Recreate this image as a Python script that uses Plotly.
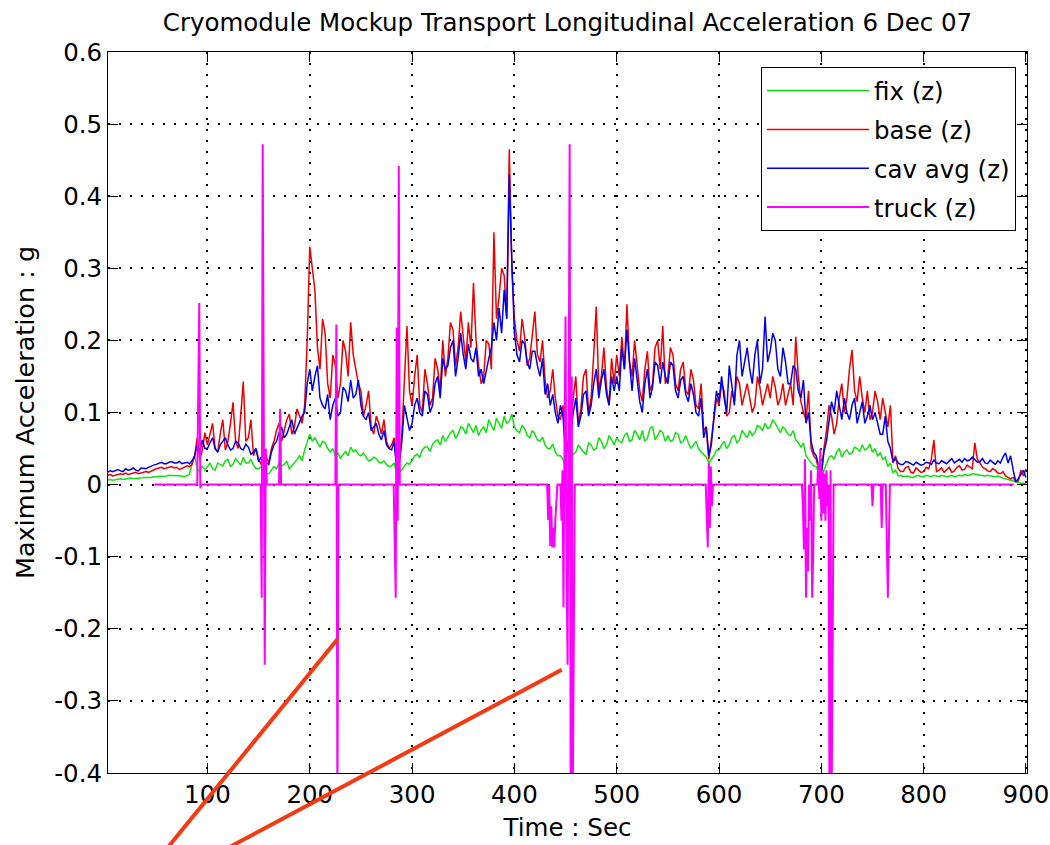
import plotly.graph_objects as go

# ---- data ----
# samples on the whole 5 s grid
time_even = list(range(0, 901, 5))
# samples half way between them (2.5 s, 7.5 s, ...)
time_mid = [2.5 + 5 * k for k in range(180)]

base_even = [
    0.012, 0.014, 0.013, 0.015, 0.016, 0.015, 0.017, 0.016, 0.018, 0.019,
    0.022, 0.024, 0.023, 0.025, 0.024, 0.022, 0.026, 0.028, 0.065, 0.048,
    0.055, 0.085, 0.045, 0.090, 0.060, 0.114, 0.050, 0.143, 0.065, 0.040,
    0.035, 0.045, 0.030, 0.060, 0.085, 0.075, 0.098, 0.080, 0.095, 0.110,
    0.330, 0.270, 0.160, 0.210, 0.120, 0.165, 0.140, 0.185, 0.225, 0.160,
    0.130, 0.110, 0.080, 0.095, 0.070, 0.060, 0.055, 0.020, 0.070, 0.220,
    0.110, 0.180, 0.100, 0.140, 0.120, 0.160, 0.200, 0.175, 0.215, 0.190,
    0.200, 0.225, 0.280, 0.165, 0.150, 0.195, 0.350, 0.260, 0.290, 0.465,
    0.230, 0.185, 0.205, 0.175, 0.240, 0.170, 0.145, 0.130, 0.120, 0.090,
    0.045, 0.080, 0.150, 0.105, 0.160, 0.120, 0.247, 0.150, 0.135, 0.175,
    0.180, 0.205, 0.250, 0.150, 0.165, 0.115, 0.185, 0.140, 0.200, 0.220,
    0.150, 0.180, 0.130, 0.170, 0.125, 0.145, 0.105, 0.075, 0.035, 0.090,
    0.110, 0.130, 0.100, 0.115, 0.140, 0.125, 0.120, 0.110, 0.135, 0.125,
    0.120, 0.135, 0.120, 0.110, 0.140, 0.205, 0.115, 0.090, 0.050, 0.035,
    0.010, 0.075, 0.095, 0.085, 0.140, 0.120, 0.187, 0.115, 0.120, 0.130,
    0.100, 0.115, 0.120, 0.080, 0.030, 0.022, 0.018, 0.025, 0.016, 0.020,
    0.018, 0.022, 0.062, 0.020, 0.017, 0.024, 0.019, 0.026, 0.021, 0.025,
    0.058, 0.030, 0.022, 0.018, 0.020, 0.015, 0.012, 0.008, 0.004, 0.020, 0.022,
]
base_mid = [
    0.013, 0.012, 0.015, 0.014, 0.014, 0.017, 0.015, 0.018, 0.017, 0.020,
    0.023, 0.022, 0.025, 0.023, 0.021, 0.024, 0.025, 0.040, 0.035, 0.072,
    0.070, 0.050, 0.070, 0.048, 0.085, 0.060, 0.095, 0.060, 0.090, 0.050,
    0.028, 0.038, 0.050, 0.075, 0.060, 0.090, 0.070, 0.105, 0.085, 0.200,
    0.300, 0.190, 0.230, 0.140, 0.180, 0.120, 0.200, 0.150, 0.180, 0.140,
    0.095, 0.130, 0.070, 0.085, 0.090, 0.050, 0.065, 0.035, 0.150, 0.130,
    0.150, 0.110, 0.160, 0.110, 0.175, 0.130, 0.150, 0.225, 0.165, 0.240,
    0.170, 0.190, 0.200, 0.140, 0.200, 0.160, 0.230, 0.300, 0.230, 0.300,
    0.200, 0.230, 0.165, 0.210, 0.180, 0.200, 0.120, 0.160, 0.095, 0.110,
    0.060, 0.120, 0.085, 0.150, 0.100, 0.180, 0.130, 0.190, 0.110, 0.140,
    0.150, 0.160, 0.170, 0.200, 0.130, 0.160, 0.130, 0.190, 0.160, 0.140,
    0.190, 0.140, 0.160, 0.130, 0.160, 0.110, 0.140, 0.080, 0.060, 0.120,
    0.140, 0.095, 0.130, 0.150, 0.110, 0.140, 0.100, 0.150, 0.110, 0.140,
    0.150, 0.110, 0.140, 0.125, 0.110, 0.150, 0.100, 0.130, 0.040, 0.020,
    0.050, 0.110, 0.070, 0.120, 0.100, 0.160, 0.130, 0.150, 0.100, 0.090,
    0.130, 0.090, 0.100, 0.110, 0.040, 0.018, 0.024, 0.017, 0.023, 0.017,
    0.024, 0.035, 0.018, 0.023, 0.020, 0.017, 0.024, 0.020, 0.027, 0.022,
    0.035, 0.024, 0.019, 0.022, 0.016, 0.018, 0.010, 0.010, 0.005, 0.012,
]

cav_even = [
    0.016, 0.019, 0.020, 0.019, 0.022, 0.021, 0.020, 0.023, 0.022, 0.026,
    0.028, 0.031, 0.029, 0.032, 0.030, 0.029, 0.031, 0.033, 0.055, 0.062,
    0.050, 0.065, 0.045, 0.060, 0.055, 0.050, 0.058, 0.048, 0.052, 0.045,
    0.032, 0.040, 0.028, 0.055, 0.072, 0.065, 0.080, 0.070, 0.085, 0.100,
    0.160, 0.150, 0.120, 0.105, 0.090, 0.120, 0.100, 0.130, 0.145, 0.125,
    0.110, 0.090, 0.075, 0.085, 0.062, 0.055, 0.048, 0.020, 0.060, 0.090,
    0.085, 0.120, 0.095, 0.125, 0.110, 0.150, 0.175, 0.165, 0.200, 0.175,
    0.180, 0.195, 0.170, 0.150, 0.140, 0.175, 0.225, 0.245, 0.270, 0.430,
    0.210, 0.170, 0.195, 0.160, 0.185, 0.150, 0.125, 0.110, 0.100, 0.110,
    0.040, 0.070, 0.120, 0.095, 0.130, 0.110, 0.160, 0.145, 0.125, 0.150,
    0.150, 0.190, 0.215, 0.130, 0.145, 0.100, 0.160, 0.135, 0.165, 0.170,
    0.140, 0.165, 0.120, 0.150, 0.115, 0.125, 0.095, 0.065, 0.040, 0.095,
    0.115, 0.120, 0.165, 0.110, 0.200, 0.170, 0.160, 0.180, 0.140, 0.233,
    0.185, 0.200, 0.150, 0.170, 0.140, 0.160, 0.120, 0.085, 0.060, 0.040,
    0.015, 0.060, 0.115, 0.130, 0.090, 0.100, 0.110, 0.085, 0.115, 0.095,
    0.090, 0.085, 0.070, 0.060, 0.032, 0.030, 0.028, 0.031, 0.027, 0.029,
    0.028, 0.030, 0.034, 0.029, 0.031, 0.033, 0.030, 0.035, 0.036, 0.034,
    0.035, 0.032, 0.030, 0.034, 0.028, 0.030, 0.044, 0.040, 0.004, 0.015, 0.010,
]
cav_mid = [
    0.018, 0.018, 0.021, 0.018, 0.020, 0.023, 0.019, 0.022, 0.024, 0.027,
    0.030, 0.029, 0.031, 0.030, 0.032, 0.030, 0.029, 0.040, 0.045, 0.050,
    0.058, 0.050, 0.055, 0.065, 0.048, 0.060, 0.050, 0.056, 0.042, 0.050,
    0.038, 0.030, 0.045, 0.060, 0.080, 0.070, 0.090, 0.078, 0.095, 0.140,
    0.130, 0.165, 0.110, 0.125, 0.110, 0.095, 0.135, 0.115, 0.120, 0.145,
    0.095, 0.100, 0.080, 0.070, 0.075, 0.050, 0.060, 0.030, 0.110, 0.075,
    0.110, 0.100, 0.130, 0.100, 0.140, 0.120, 0.160, 0.190, 0.150, 0.210,
    0.160, 0.175, 0.190, 0.160, 0.160, 0.190, 0.200, 0.210, 0.230, 0.310,
    0.180, 0.200, 0.170, 0.185, 0.165, 0.175, 0.140, 0.125, 0.085, 0.095,
    0.055, 0.100, 0.080, 0.125, 0.095, 0.140, 0.120, 0.160, 0.110, 0.130,
    0.130, 0.160, 0.170, 0.175, 0.115, 0.140, 0.120, 0.170, 0.140, 0.150,
    0.170, 0.130, 0.145, 0.125, 0.140, 0.100, 0.120, 0.080, 0.055, 0.130,
    0.150, 0.100, 0.140, 0.180, 0.150, 0.190, 0.140, 0.200, 0.160, 0.170,
    0.210, 0.160, 0.190, 0.140, 0.165, 0.130, 0.145, 0.100, 0.045, 0.025,
    0.045, 0.090, 0.100, 0.110, 0.120, 0.090, 0.120, 0.100, 0.085, 0.110,
    0.100, 0.070, 0.095, 0.050, 0.036, 0.028, 0.032, 0.029, 0.031, 0.027,
    0.031, 0.028, 0.030, 0.033, 0.029, 0.036, 0.033, 0.031, 0.033, 0.038,
    0.031, 0.036, 0.029, 0.031, 0.033, 0.038, 0.030, 0.020, 0.008, 0.020,
]

fix_even = [
    0.006, 0.007, 0.007, 0.008, 0.008, 0.009, 0.008, 0.009, 0.010, 0.010,
    0.011, 0.012, 0.012, 0.013, 0.012, 0.012, 0.013, 0.030, 0.022, 0.026,
    0.025, 0.022, 0.030, 0.026, 0.035, 0.028, 0.032, 0.038, 0.030, 0.027,
    0.022, 0.018, 0.015, 0.025, 0.030, 0.028, 0.022, 0.030, 0.040, 0.048,
    0.070, 0.065, 0.052, 0.058, 0.045, 0.040, 0.036, 0.046, 0.052, 0.048,
    0.040, 0.038, 0.034, 0.036, 0.030, 0.028, 0.026, 0.015, 0.020, 0.030,
    0.035, 0.042, 0.048, 0.052, 0.056, 0.062, 0.068, 0.065, 0.075, 0.070,
    0.078, 0.085, 0.072, 0.068, 0.080, 0.090, 0.075, 0.085, 0.095, 0.088,
    0.080, 0.072, 0.078, 0.065, 0.070, 0.060, 0.055, 0.050, 0.045, 0.040,
    0.022, 0.035, 0.045, 0.050, 0.042, 0.055, 0.050, 0.060, 0.055, 0.062,
    0.065, 0.058, 0.072, 0.062, 0.070, 0.075, 0.064, 0.080, 0.068, 0.072,
    0.068, 0.062, 0.070, 0.060, 0.058, 0.055, 0.050, 0.042, 0.030, 0.040,
    0.048, 0.060, 0.055, 0.068, 0.062, 0.070, 0.075, 0.072, 0.080, 0.085,
    0.080, 0.085, 0.072, 0.076, 0.068, 0.062, 0.052, 0.040, 0.030, 0.025,
    0.010, 0.028, 0.040, 0.045, 0.038, 0.048, 0.044, 0.050, 0.055, 0.050,
    0.045, 0.040, 0.035, 0.025, 0.016, 0.012, 0.011, 0.012, 0.010, 0.013,
    0.011, 0.012, 0.013, 0.011, 0.012, 0.012, 0.011, 0.013, 0.014, 0.013,
    0.015, 0.013, 0.012, 0.012, 0.011, 0.010, 0.008, 0.006, 0.003, 0.002, 0.002,
]
fix_mid = [
    0.007, 0.006, 0.008, 0.007, 0.009, 0.008, 0.009, 0.010, 0.009, 0.011,
    0.012, 0.011, 0.013, 0.012, 0.013, 0.011, 0.014, 0.040, 0.018, 0.020,
    0.030, 0.020, 0.028, 0.033, 0.025, 0.036, 0.027, 0.030, 0.035, 0.022,
    0.025, 0.015, 0.020, 0.022, 0.026, 0.032, 0.026, 0.035, 0.033, 0.058,
    0.060, 0.058, 0.060, 0.050, 0.050, 0.044, 0.042, 0.040, 0.046, 0.042,
    0.044, 0.033, 0.038, 0.031, 0.033, 0.025, 0.030, 0.018, 0.026, 0.028,
    0.040, 0.038, 0.052, 0.046, 0.060, 0.055, 0.060, 0.072, 0.064, 0.080,
    0.070, 0.078, 0.082, 0.076, 0.072, 0.082, 0.092, 0.078, 0.085, 0.098,
    0.075, 0.082, 0.068, 0.075, 0.062, 0.066, 0.050, 0.056, 0.040, 0.035,
    0.030, 0.042, 0.055, 0.045, 0.058, 0.048, 0.065, 0.050, 0.068, 0.055,
    0.060, 0.068, 0.060, 0.075, 0.062, 0.060, 0.078, 0.062, 0.075, 0.060,
    0.060, 0.072, 0.058, 0.068, 0.050, 0.060, 0.045, 0.038, 0.035, 0.048,
    0.055, 0.050, 0.065, 0.058, 0.075, 0.065, 0.068, 0.082, 0.075, 0.078,
    0.090, 0.078, 0.080, 0.070, 0.075, 0.058, 0.058, 0.035, 0.026, 0.015,
    0.020, 0.038, 0.035, 0.050, 0.045, 0.042, 0.052, 0.046, 0.048, 0.056,
    0.050, 0.044, 0.038, 0.030, 0.020, 0.013, 0.012, 0.010, 0.012, 0.011,
    0.013, 0.011, 0.012, 0.013, 0.011, 0.013, 0.012, 0.012, 0.013, 0.015,
    0.014, 0.012, 0.013, 0.011, 0.012, 0.009, 0.007, 0.004, 0.003, 0.002,
]

truck_time = [
    48, 90, 91, 92, 93, 94,
    152, 153, 154, 155, 156, 157, 158,
    170, 171, 172,
    225, 226, 227, 228,
    282, 283, 284, 285, 286, 287, 288,
    432, 433, 434, 435, 436, 437, 438, 439, 440, 441, 442,
    445, 446, 447, 448, 449, 450, 451, 452, 453, 454, 455, 456, 457, 458, 459,
    587, 588, 589, 590, 591, 592, 593, 594,
    681, 682, 683, 684, 685, 686, 687, 688, 689, 690, 691, 692, 693,
    696, 697, 698, 699, 700, 701, 702, 703, 704, 705, 706, 707, 708, 709, 710, 711, 712,
    749, 750, 751, 758, 759, 760, 763, 764, 765, 766, 767,
    888,
]
truck_z = [
    0, 0, 0.127, 0.252, -0.005, 0,
    0, -0.157, 0.472, -0.05, -0.25, 0.05, 0,
    0, 0.105, 0,
    0, 0.222, -0.45, 0,
    0, -0.08, -0.157, 0.218, -0.05, 0.442, 0,
    0, -0.049, 0, -0.085, -0.03, -0.087, -0.06, -0.087, -0.05, -0.02, 0,
    0, -0.05, 0.02, -0.17, 0.06, 0.233, -0.12, -0.25, 0.1, 0.472, -0.45, 0.15, -0.45, -0.2, 0,
    0, -0.05, -0.087, 0.03, -0.06, 0.025, -0.03, 0,
    0, -0.03, -0.09, 0.035, -0.157, -0.06, -0.12, 0, -0.05, 0.02, -0.157, -0.1, 0,
    0, 0.03, -0.02, 0.05, -0.05, 0.02, -0.04, 0.015, -0.05, 0.02, -0.03, 0, -0.45, 0.02, -0.45, -0.1, 0,
    0, -0.03, 0, 0, -0.06, 0, 0, -0.12, -0.157, -0.08, 0,
    0,
]

y_ticks = [-0.4, -0.3, -0.2, -0.1, 0, 0.1, 0.2, 0.3, 0.4, 0.5, 0.6]
y_tick_text = ["-0.4", "-0.3", "-0.2", "-0.1", "0", "0.1", "0.2", "0.3", "0.4", "0.5", "0.6"]
x_ticks = [100, 200, 300, 400, 500, 600, 700, 800, 900]


def merge(t_a, v_a, t_b, v_b):
    pairs = sorted(list(zip(t_a, v_a)) + list(zip(t_b, v_b)))
    return [p[0] for p in pairs], [p[1] for p in pairs]


t_base, base_z = merge(time_even, base_even, time_mid, base_mid)
t_cav, cav_avg_z = merge(time_even, cav_even, time_mid, cav_mid)
t_fix, fix_z = merge(time_even, fix_even, time_mid, fix_mid)

FONT = "DejaVu Sans"
FS = 24.5

fig = go.Figure()
fig.add_trace(go.Scatter(x=t_fix, y=fix_z, mode="lines", name="fix (z)",
                         line=dict(color="#11e011", width=1.5), legendgroup="a"))
fig.add_trace(go.Scatter(x=t_base, y=base_z, mode="lines", name="base (z)",
                         line=dict(color="#ee0000", width=1.5), legendgroup="b"))
fig.add_trace(go.Scatter(x=t_cav, y=cav_avg_z, mode="lines", name="cav avg (z)",
                         line=dict(color="#0000ee", width=1.5), legendgroup="c"))
fig.add_trace(go.Scatter(x=truck_time, y=truck_z, mode="lines", name="truck (z)",
                         line=dict(color="#ff00ff", width=2), legendgroup="d"))

axis_common = dict(
    showline=True, linecolor="black", linewidth=1, mirror="ticks",
    ticks="inside", ticklen=10, tickwidth=1, tickcolor="black",
    showgrid=True, gridcolor="black", gridwidth=1.5, griddash="2px,9px",
    zeroline=False, automargin=False,
    tickfont=dict(family=FONT, size=FS, color="black"),
)

fig.update_xaxes(range=[2.8, 901], tickvals=x_ticks,
                 title=dict(text="Time : Sec", font=dict(family=FONT, size=FS, color="black"), standoff=10),
                 **axis_common)
fig.update_yaxes(range=[-0.4, 0.6], tickvals=y_ticks, ticktext=y_tick_text,
                 title=dict(text="Maximum Acceleration : g", font=dict(family=FONT, size=25.5, color="black"),
                            standoff=12),
                 **axis_common)

# red annotation strokes drawn over the figure
fig.add_shape(type="line", xref="paper", yref="paper", x0=0.0627, y0=-0.107, x1=0.2499, y1=0.1857,
              line=dict(color="#f43a12", width=4), layer="above")
fig.add_shape(type="line", xref="paper", yref="paper", x0=0.1259, y0=-0.107, x1=0.4937, y1=0.1432,
              line=dict(color="#f43a12", width=4), layer="above")

fig.update_layout(
    width=1050, height=845,
    margin=dict(l=108, r=23, t=52, b=72, autoexpand=False),
    paper_bgcolor="white", plot_bgcolor="white",
    font=dict(family=FONT, size=FS, color="black"),
    title=dict(text="Cryomodule Mockup Transport Longitudinal Acceleration 6 Dec 07",
               x=0.5, xref="paper", xanchor="center", y=0.973, yref="container", yanchor="middle",
               font=dict(family=FONT, size=FS, color="black")),
    legend=dict(x=0.988, y=0.979, xanchor="right", yanchor="top",
                bgcolor="white", bordercolor="black", borderwidth=1,
                font=dict(family=FONT, size=FS, color="black"),
                itemwidth=102, tracegroupgap=4, traceorder="grouped"),
    showlegend=True,
)

fig.write_html("out.html")
